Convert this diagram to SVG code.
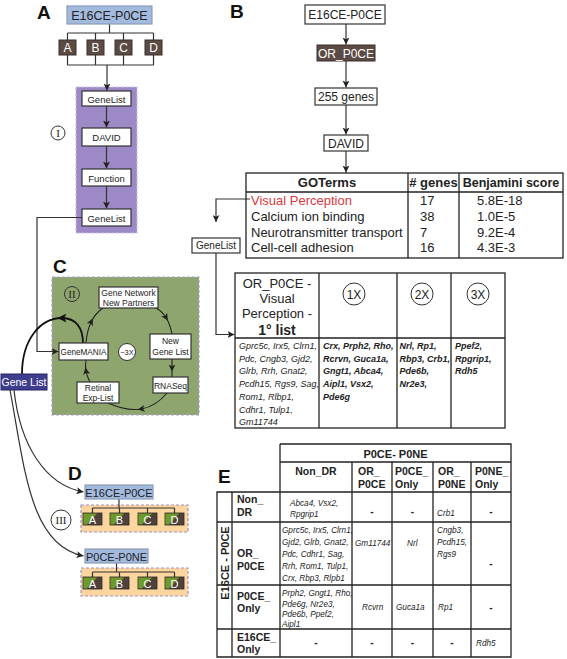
<svg xmlns="http://www.w3.org/2000/svg" width="567" height="659" viewBox="0 0 567 659">
<style>
 text { font-family: "Liberation Sans", Arial, sans-serif; fill:#222; }
 .lbl { font-size:19px; font-weight:bold; fill:#111; }
 .box { fill:#fff; stroke:#333; stroke-width:1.2; }
 .blue { fill:#a3badf; stroke:#8c9cb6; stroke-width:1.2; }
 .brown { fill:#5b4b44; stroke:#3a302b; stroke-width:1; }
 .navy { fill:#3f3d8f; stroke:#28265f; stroke-width:1; }
 .wt { fill:#fff; }
 .c { text-anchor:middle; }
 .ln { fill:none; stroke:#333; stroke-width:1.2; }
 .cy { fill:none; stroke:#222; stroke-width:1.1; }
 .rn { font-family:"Liberation Serif", "Times New Roman", serif; font-size:11px; text-anchor:middle; fill:#222; }
 .circ { fill:none; stroke:#333; stroke-width:1; }
 .it { font-style:italic; }
 .b { font-weight:bold; }
 .tbl { fill:none; stroke:#222; stroke-width:1.3; }
 .s9 { font-size:9px; }
 .s8 { font-size:8.2px; }
 .g { fill:#444; }
 .dash { font-weight:bold; font-size:10px; text-anchor:middle; }
 .hd { font-weight:bold; font-size:10.5px; }
</style>
<defs>
 <marker id="ah" viewBox="0 0 10 10" refX="10" refY="5" markerWidth="7" markerHeight="7" markerUnits="userSpaceOnUse" orient="auto"><path d="M0,0 L10,5 L0,10 L2.5,5 z" fill="#222"/></marker>
 <marker id="am" viewBox="0 0 10 10" refX="5" refY="5" markerWidth="7" markerHeight="7" markerUnits="userSpaceOnUse" orient="auto"><path d="M0,0 L10,5 L0,10 L2.5,5 z" fill="#222"/></marker>
 <marker id="amb" viewBox="0 0 10 10" refX="5" refY="5" markerWidth="9" markerHeight="9" markerUnits="userSpaceOnUse" orient="auto"><path d="M0,0 L10,5 L0,10 L2.5,5 z" fill="#111"/></marker>
 <g id="half"><rect width="19" height="12" fill="#4f423c" stroke="#2d2622" stroke-width="0.8"/><polygon points="0.4,0.4 14,0.4 4,11.6 0.4,11.6" fill="#6e9a2c"/></g>
</defs>

<!-- regions -->
<g id="regions">
 <rect id="region-I" x="76" y="87" width="61" height="146" fill="#9c89c5" stroke="#c6b9e4" stroke-width="1.2" stroke-dasharray="3,2"/>
 <rect id="region-II" x="52" y="277" width="147" height="138" fill="#8ea66e" stroke="#a99dd0" stroke-width="1.2" stroke-dasharray="3,2"/>
 <rect id="region-III-a" x="81" y="505" width="107" height="27" fill="#fdd59e" stroke="#9f92cc" stroke-width="1.2" stroke-dasharray="3,2"/>
 <rect id="region-III-b" x="81" y="568" width="107" height="28" fill="#fdd59e" stroke="#9f92cc" stroke-width="1.2" stroke-dasharray="3,2"/>
</g>

<!-- panel labels -->
<g id="labels">
 <text class="lbl" x="37" y="19">A</text>
 <text class="lbl" x="230" y="18">B</text>
 <text class="lbl" x="53" y="273">C</text>
 <text class="lbl" x="68" y="480">D</text>
 <text class="lbl" x="218" y="483">E</text>
</g>

<!-- connectors -->
<g id="connectors">
 <path class="ln" d="M109.5,24 V33 M67.5,33 H153.5 M67.5,33 V40 M95.5,33 V40 M123.5,33 V40 M153.5,33 V40"/>
 <path class="ln" d="M67.5,55 V65 M95.5,55 V65 M123.5,55 V65 M153.5,55 V65 M67.5,65 H153.5"/>
 <path class="ln" d="M107,65 V90.5" marker-end="url(#ah)"/>
 <path class="ln" d="M106.5,106 V127.5" marker-end="url(#ah)"/>
 <path class="ln" d="M106.5,146 V168.5" marker-end="url(#ah)"/>
 <path class="ln" d="M106.5,186 V208.5" marker-end="url(#ah)"/>
 <path class="ln" d="M82,217.5 H37 V351.5 H58.5" marker-end="url(#ah)"/>
 <!-- panel B -->
 <path class="ln" d="M346,24 V44.5" marker-end="url(#ah)"/>
 <path class="ln" d="M346,61 V87.5" marker-end="url(#ah)"/>
 <path class="ln" d="M346,105 V134.5" marker-end="url(#ah)"/>
 <path class="ln" d="M346,151 V172.5" marker-end="url(#ah)"/>
 <path class="ln" d="M250,199 H216 V222" marker-end="url(#ah)"/>
 <path class="ln" d="M216,253 V334.5 H234.5" marker-end="url(#ah)"/>
 <!-- cycle C -->
 <path class="cy" d="M86,343 Q87,330.5 91.25,321.75 Q95.5,313 103,308" marker-mid="url(#am)"/>
 <path class="cy" d="M156,308 Q162,311 166,317.5 Q170,324 172,334" marker-mid="url(#am)"/>
 <path class="cy" d="M172,359 L172,368 L172,377" marker-mid="url(#am)"/>
 <path class="cy" d="M167,393 Q156,406.5 141.25,409 Q126.5,411.5 108,403" marker-mid="url(#am)"/>
 <path class="cy" d="M90,382 Q87,376.5 86,371 Q85,365.5 86,360" marker-mid="url(#am)"/>
 <!-- thick loop GeneMANIA -> Gene List -->
 <path d="M83,343 C83,328 76,318 62,318 C40,318 22,340 22,374" fill="none" stroke="#111" stroke-width="1.8" marker-mid="url(#amb)"/>
 <!-- Gene List to D -->
 <path class="ln" d="M14,390 C20,445 45,485 83.5,492" marker-end="url(#ah)"/>
 <path class="ln" d="M10,390 C25,470 30,545 83.5,556" marker-end="url(#ah)"/>
 <!-- D brackets -->
 <path class="ln" d="M119,499 V508 M92.5,508 H174.5 M92.5,508 V513 M119.5,508 V513 M147.5,508 V513 M174.5,508 V513"/>
 <path class="ln" d="M116.5,563 V572 M92.5,572 H174.5 M92.5,572 V577 M119.5,572 V577 M147.5,572 V577 M174.5,572 V577"/>
</g>

<!-- panel A nodes -->
<g id="a-e16ce"><rect class="blue" x="67" y="6" width="85" height="18"/><text class="c" x="109.5" y="20" font-size="12.5">E16CE-P0CE</text></g>
<g id="a-A"><rect class="brown" x="59" y="40" width="17" height="15"/><text class="c wt" x="67.5" y="52" font-size="12">A</text></g>
<g id="a-B"><rect class="brown" x="87" y="40" width="17" height="15"/><text class="c wt" x="95.5" y="52" font-size="12">B</text></g>
<g id="a-C"><rect class="brown" x="115" y="40" width="17" height="15"/><text class="c wt" x="123.5" y="52" font-size="12">C</text></g>
<g id="a-D"><rect class="brown" x="145" y="40" width="17" height="15"/><text class="c wt" x="153.5" y="52" font-size="12">D</text></g>
<g id="a-genelist1"><rect class="box" x="82" y="91" width="49" height="15"/><text class="c" x="106.5" y="102.5" font-size="9.5">GeneList</text></g>
<g id="a-david"><rect class="box" x="82" y="128" width="49" height="18"/><text class="c" x="106.5" y="141" font-size="9.5">DAVID</text></g>
<g id="a-function"><rect class="box" x="82" y="169" width="49" height="17"/><text class="c" x="106.5" y="181.5" font-size="9.5">Function</text></g>
<g id="a-genelist2"><rect class="box" x="82" y="209" width="49" height="17"/><text class="c" x="106.5" y="221.5" font-size="9.5">GeneList</text></g>
<g id="step-I"><circle class="circ" cx="58" cy="133" r="7"/><text class="rn" x="58" y="137">I</text></g>

<!-- panel B nodes -->
<g id="b-e16ce"><rect class="box" x="305" y="5" width="80" height="19"/><text class="c" x="345" y="19" font-size="12">E16CE-P0CE</text></g>
<g id="b-or"><rect class="brown" x="317" y="45" width="58" height="16"/><text class="c wt" x="346" y="57.5" font-size="12">OR_P0CE</text></g>
<g id="b-255"><rect class="box" x="315" y="88" width="62" height="17"/><text class="c" x="346" y="101" font-size="12">255 genes</text></g>
<g id="b-david"><rect class="box" x="324" y="135" width="44" height="16"/><text class="c" x="346" y="147.5" font-size="12">DAVID</text></g>
<g id="b-goterms">
 <rect class="tbl" x="246" y="173" width="317" height="85"/>
 <path class="tbl" d="M246,192 H563 M408,173 V258 M459,173 V258"/>
 <text class="c b" x="327" y="187" font-size="13">GOTerms</text>
 <text class="c b" x="433.5" y="187" font-size="13"># genes</text>
 <text class="c b" x="511" y="187" font-size="12.5">Benjamini score</text>
 <text x="251" y="205" font-size="13" style="fill:#d8383e">Visual Perception</text>
 <text x="251" y="221" font-size="13">Calcium ion binding</text>
 <text x="251" y="237" font-size="13">Neurotransmitter transport</text>
 <text x="251" y="252" font-size="13">Cell-cell adhesion</text>
 <text x="420" y="205" font-size="13">17</text>
 <text x="420" y="221" font-size="13">38</text>
 <text x="420" y="237" font-size="13">7</text>
 <text x="420" y="252" font-size="13">16</text>
 <text x="477" y="205" font-size="13">5.8E-18</text>
 <text x="477" y="221" font-size="13">1.0E-5</text>
 <text x="477" y="237" font-size="13">9.2E-4</text>
 <text x="477" y="252" font-size="13">4.3E-3</text>
</g>
<g id="b-genelist"><rect class="box" x="192" y="238" width="48" height="15"/><text class="c" x="216" y="249" font-size="10">GeneList</text></g>
<g id="b-primary-list">
 <rect class="tbl" x="235" y="273" width="270" height="155"/>
 <path class="tbl" d="M235,338 H505 M319,273 V428 M397,273 V428 M451,273 V428"/>
 <text class="c" x="277" y="288" font-size="13">OR_P0CE -</text>
 <text class="c" x="277" y="303" font-size="13">Visual</text>
 <text class="c" x="277" y="318" font-size="13">Perception -</text>
 <text class="c b" x="277" y="335" font-size="14">1° list</text>
 <circle class="circ" cx="354" cy="294" r="11"/><text class="c" x="354" y="298.5" font-size="12">1X</text>
 <circle class="circ" cx="422" cy="294" r="11"/><text class="c" x="422" y="298.5" font-size="12">2X</text>
 <circle class="circ" cx="478" cy="294" r="11"/><text class="c" x="478" y="298.5" font-size="12">3X</text>
 <g class="it s9 g">
  <text x="239" y="349">Gprc5c, Irx5, Clrn1,</text>
  <text x="239" y="361.7">Pdc, Cngb3, Gjd2,</text>
  <text x="239" y="374.4">Glrb, Rrh, Gnat2,</text>
  <text x="239" y="387.1">Pcdh15, Rgs9, Sag,</text>
  <text x="239" y="399.8">Rom1, Rlbp1,</text>
  <text x="239" y="412.5">Cdhr1, Tulp1,</text>
  <text x="239" y="425.2">Gm11744</text>
 </g>
 <g class="it b s9">
  <text x="323" y="349">Crx, Prph2, Rho,</text>
  <text x="323" y="361.7">Rcrvn, Guca1a,</text>
  <text x="323" y="374.4">Gngt1, Abca4,</text>
  <text x="323" y="387.1">Aipl1, Vsx2,</text>
  <text x="323" y="399.8">Pde6g</text>
  <text x="399.5" y="349">Nrl, Rp1,</text>
  <text x="399.5" y="361.7">Rbp3, Crb1,</text>
  <text x="399.5" y="374.4">Pde6b,</text>
  <text x="399.5" y="387.1">Nr2e3,</text>
  <text x="455" y="349">Ppef2,</text>
  <text x="455" y="361.7">Rpgrip1,</text>
  <text x="455" y="374.4">Rdh5</text>
 </g>
</g>

<!-- panel C nodes -->
<g id="step-II"><circle class="circ" cx="72" cy="294" r="7.5"/><text class="rn" x="72" y="298">II</text></g>
<g id="c-network"><rect class="box" x="99" y="287" width="59" height="21"/><text class="c" x="128.5" y="296" font-size="8.5">Gene Network</text><text class="c" x="128.5" y="305.5" font-size="8.5">New Partners</text></g>
<g id="c-newgenelist"><rect class="box" x="150" y="334" width="41" height="25"/><text class="c" x="170.5" y="344" font-size="8.5">New</text><text class="c" x="170.5" y="355" font-size="8.5">Gene List</text></g>
<g id="c-rnaseq"><rect class="box" x="153" y="377" width="35" height="16"/><text class="c" x="170.5" y="388.5" font-size="8.5">RNASeq</text></g>
<g id="c-retinal"><rect class="box" x="77" y="382" width="42" height="21"/><text class="c" x="98" y="391" font-size="8.5">Retinal</text><text class="c" x="98" y="400.5" font-size="8.5">Exp-List</text></g>
<g id="c-genemania"><rect class="box" x="59" y="343" width="49" height="17"/><text class="c" x="83.5" y="355" font-size="8.2">GeneMANIA</text></g>
<g id="c-3x"><circle cx="127" cy="352" r="8.5" fill="#fff" stroke="#333" stroke-width="1"/><text class="c" x="127" y="355" font-size="7.5">~3X</text></g>
<g id="genelist-main"><rect class="navy" x="1" y="374" width="46" height="16"/><text class="c wt" x="24" y="386" font-size="10.5">Gene List</text></g>

<!-- panel D nodes -->
<g id="d-e16ce"><rect class="blue" x="85" y="485" width="68" height="14"/><text class="c" x="119" y="496.5" font-size="11">E16CE-P0CE</text></g>
<g id="d1-A"><use href="#half" x="83" y="513"/><text class="c wt" x="92.5" y="523.5" font-size="11">A</text></g>
<g id="d1-B"><use href="#half" x="110" y="513"/><text class="c wt" x="119.5" y="523.5" font-size="11">B</text></g>
<g id="d1-C"><use href="#half" x="138" y="513"/><text class="c wt" x="147.5" y="523.5" font-size="11">C</text></g>
<g id="d1-D"><use href="#half" x="165" y="513"/><text class="c wt" x="174.5" y="523.5" font-size="11">D</text></g>
<g id="step-III"><circle class="circ" cx="61" cy="520" r="10"/><text class="rn" x="61" y="524" font-size="10">III</text></g>
<g id="d-p0ce"><rect class="blue" x="85" y="549" width="63" height="14"/><text class="c" x="116.5" y="560.5" font-size="11">P0CE-P0NE</text></g>
<g id="d2-A"><use href="#half" x="83" y="577"/><text class="c wt" x="92.5" y="587.5" font-size="11">A</text></g>
<g id="d2-B"><use href="#half" x="110" y="577"/><text class="c wt" x="119.5" y="587.5" font-size="11">B</text></g>
<g id="d2-C"><use href="#half" x="138" y="577"/><text class="c wt" x="147.5" y="587.5" font-size="11">C</text></g>
<g id="d2-D"><use href="#half" x="165" y="577"/><text class="c wt" x="174.5" y="587.5" font-size="11">D</text></g>

<!-- panel E table -->
<g id="e-table">
 <path class="tbl" d="M280,444 H511 V657 H217 V492 H511 M280,462 H511 M280,444 V657 M232,492 V657 M352,462 V657 M392,462 V657 M433,462 V657 M471,462 V657 M217,522 H511 M217,585 H511 M217,629 H511"/>
 <text class="c b" x="395.5" y="457.5" font-size="11">P0CE- P0NE</text>
 <text class="c hd" x="316" y="475">Non_DR</text>
 <text class="hd" x="358" y="475">OR_</text><text class="hd" x="358" y="488">P0CE</text>
 <text class="hd" x="395" y="475">P0CE_</text><text class="hd" x="395" y="488">Only</text>
 <text class="hd" x="438" y="475">OR_</text><text class="hd" x="438" y="488">P0NE</text>
 <text class="hd" x="475" y="475">P0NE_</text><text class="hd" x="475" y="488">Only</text>
 <text class="c b" font-size="11" transform="translate(229,563) rotate(-90)">E16CE - P0CE</text>
 <text class="hd" x="237" y="503">Non_</text><text class="hd" x="237" y="516">DR</text>
 <text class="hd" x="237" y="557">OR_</text><text class="hd" x="237" y="570">P0CE</text>
 <text class="hd" x="237" y="600">P0CE_</text><text class="hd" x="237" y="612">Only</text>
 <text class="hd" x="237" y="641">E16CE_</text><text class="hd" x="237" y="653">Only</text>
 <g class="it s8">
  <text x="290" y="506">Abca4, Vsx2,</text>
  <text x="290" y="517">Rpgrip1</text>
  <text x="437" y="516">Crb1</text>
  <text x="282" y="533">Gprc5c, Irx5, Clrn1,</text>
  <text x="282" y="545">Gjd2, Glrb, Gnat2,</text>
  <text x="282" y="557">Pdc, Cdhr1, Sag,</text>
  <text x="282" y="569">Rrh, Rom1, Tulp1,</text>
  <text x="282" y="581">Crx, Rbp3, Rlpb1</text>
  <text x="355" y="546">Gm11744</text>
  <text x="407" y="546">Nrl</text>
  <text x="437" y="533">Cngb3,</text>
  <text x="437" y="545">Pcdh15,</text>
  <text x="437" y="557">Rgs9</text>
  <text x="282" y="596">Prph2, Gngt1, Rho,</text>
  <text x="282" y="606.5">Pde6g, Nr2e3,</text>
  <text x="282" y="617">Pde6b, Ppef2,</text>
  <text x="282" y="627">Aipl1</text>
  <text x="362" y="610">Rcvrn</text>
  <text x="396" y="610">Guca1a</text>
  <text x="438" y="610">Rp1</text>
  <text x="476" y="646">Rdh5</text>
 </g>
 <text class="dash" x="372" y="515">-</text>
 <text class="dash" x="412.5" y="515">-</text>
 <text class="dash" x="491" y="515">-</text>
 <text class="dash" x="491" y="567">-</text>
 <text class="dash" x="491" y="611">-</text>
 <text class="dash" x="316" y="646">-</text>
 <text class="dash" x="372" y="646">-</text>
 <text class="dash" x="412.5" y="646">-</text>
 <text class="dash" x="452" y="646">-</text>
</g>
</svg>
